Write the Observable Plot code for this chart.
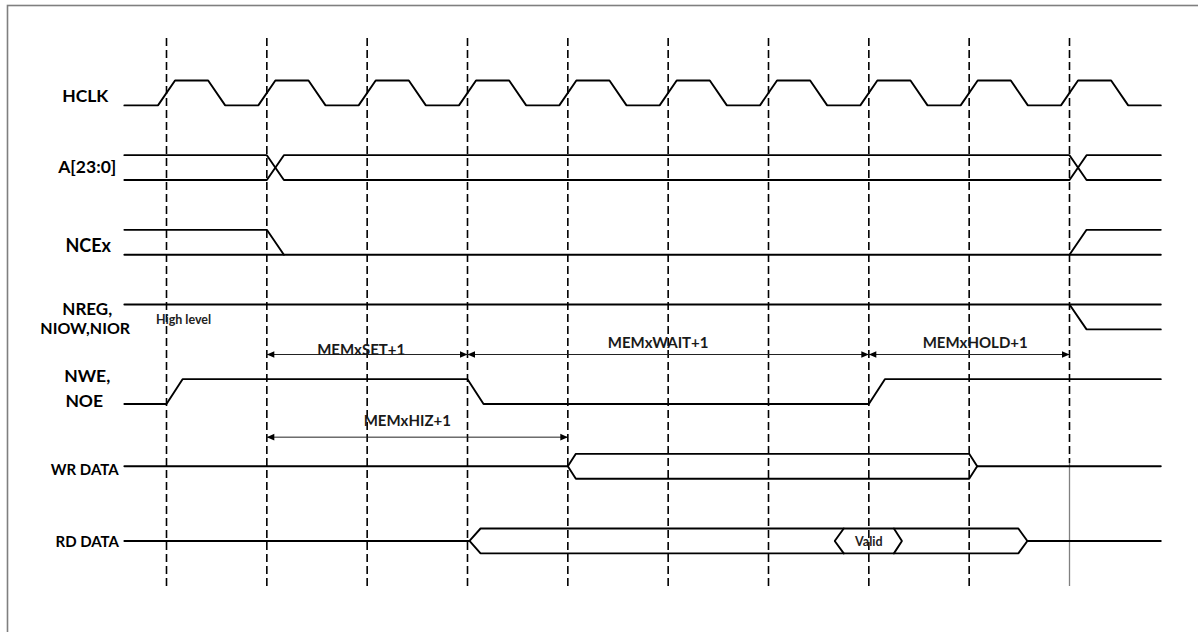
<!DOCTYPE html>
<html>
<head>
<meta charset="utf-8">
<script src="https://cdn.jsdelivr.net/npm/d3@7"></script>
<script src="https://cdn.jsdelivr.net/npm/@observablehq/plot@0.6"></script>
<style>
  body { margin: 0; background: #fff; }
  #chart svg { display: block; }
</style>
</head>
<body>
<div id="chart"></div>
<script>
// ---------------- DATA ----------------
// Signal lanes, top to bottom
const signals = ["HCLK", "A[23:0]", "NCEx", "NREG", "NWE", "WR DATA", "RD DATA"];

// Signal name text lines and the lane each belongs to
const labelTexts = ["HCLK", "A[23:0]", "NCEx", "NREG,", "NIOW,NIOR", "NWE,", "NOE", "WR DATA", "RD DATA"];
const labelLanes = [0, 1, 2, 3, 3, 4, 4, 5, 6];

// Clock-cycle reference lines (in clock periods)
const cycleMarks = [0, 1, 2, 3, 4, 5, 6, 7, 8, 9];

// HCLK edge times (clock periods)
const clkRise = [0, 1, 2, 3, 4, 5, 6, 7, 8, 9];
const clkFall = [0.5, 1.5, 2.5, 3.5, 4.5, 5.5, 6.5, 7.5, 8.5, 9.5];

// Diagram time span
const tStart = -0.42, tEnd = 9.91;

// Waveform polylines: [time, level]  (level 1 = high, 0 = low, 0.5 = mid / bus idle)
const addrA = [[tStart, 1], [1, 1], [1.17, 0], [9, 0], [9.17, 1], [tEnd, 1]];
const addrB = [[tStart, 0], [1, 0], [1.17, 1], [9, 1], [9.17, 0], [tEnd, 0]];
const nceHigh = [[tStart, 1], [1, 1], [1.17, 0]];
const nceLow = [[tStart, 0], [tEnd, 0]];
const nceRise = [[9, 0], [9.17, 1], [tEnd, 1]];
const nregHigh = [[tStart, 1], [tEnd, 1]];
const nregFall = [[9, 1], [9.17, 0], [tEnd, 0]];
const nwe = [[tStart, 0], [0, 0], [0.16, 1], [3, 1], [3.16, 0], [7, 0], [7.16, 1], [tEnd, 1]];
const wrTop = [[tStart, 0.5], [4, 0.5], [4.08, 1], [8, 1], [8.08, 0.5], [tEnd, 0.5]];
const wrBot = [[4, 0.5], [4.08, 0], [8, 0], [8.08, 0.5]];
const rdTop = [[tStart, 0.5], [3.02, 0.5], [3.13, 1], [8.49, 1], [8.58, 0.5], [tEnd, 0.5]];
const rdBot = [[3.02, 0.5], [3.13, 0], [8.49, 0], [8.58, 0.5]];
const validOpen = [[6.75, 1], [6.66, 0.5], [6.75, 0]];
const validClose = [[7.25, 1], [7.33, 0.5], [7.25, 0]];

// Timing annotations
const dimLabels = ["MEMxSET+1", "MEMxWAIT+1", "MEMxHOLD+1", "MEMxHIZ+1"];
const dimFrom = [1, 3, 7, 1];
const dimTo = [3, 7, 9, 4];
const dimLane = [3, 3, 3, 4];

// Inline notes
const noteTexts = ["High level", "Valid"];
const noteTimes = [0.17, 7.0];
const noteLanes = [3, 6];

// ---------------- LAYOUT / STYLE ----------------
const slew = 0.17;               // clock edge width (periods)
const levelHeight = 1 / 3;       // high-to-low distance, in lane units
const labelX = -0.8;             // signal label column (periods)
const labelStyle = [             // per-line font size and pixel offsets
  {size: 17.5, dx: -1, dy: 16},
  {size: 17.5, dx: 1, dy: 12},
  {size: 18, dx: 2, dy: 16},
  {size: 17, dx: 1, dy: 5},
  {size: 16, dx: -1, dy: 24},
  {size: 17.5, dx: 1, dy: -3},
  {size: 17.5, dx: -2, dy: 22},
  {size: 15, dx: -1.5, dy: 16},
  {size: 15, dx: 1, dy: 14}
];
const dimStyle = [               // label placement for annotations (text x in periods, y offsets px)
  {tx: 1.94, textDy: -4, arrowDy: 50},
  {tx: 4.9, textDy: -11, arrowDy: 50},
  {tx: 8.06, textDy: -11, arrowDy: 50},
  {tx: 2.4, textDy: -16, arrowDy: 58}
];
const noteStyle = [{size: 12.5, dy: 15}, {size: 12.5, dy: 13.5}];
const dimFontSize = 15;
const laneUnit = (528 - 80) / 6; // px per lane

// ---------------- BUILD ROWS ----------------
const yOf = (lane, level) => lane + (1 - level) * levelHeight;

// HCLK polyline from its edges
const clkPts = [[tStart, 0]];
const edges = [...clkRise.map(t => ({t, up: true})), ...clkFall.map(t => ({t, up: false}))].sort((a, b) => a.t - b.t);
for (const e of edges) {
  if (e.up) { clkPts.push([e.t - slew / 2, 0], [e.t + slew / 2, 1]); }
  else { clkPts.push([e.t - slew / 2, 1], [e.t + slew / 2, 0]); }
}
clkPts.push([tEnd, 0]);

const paths = [
  {lane: 0, pts: clkPts},
  {lane: 1, pts: addrA}, {lane: 1, pts: addrB},
  {lane: 2, pts: nceHigh}, {lane: 2, pts: nceLow}, {lane: 2, pts: nceRise},
  {lane: 3, pts: nregHigh}, {lane: 3, pts: nregFall},
  {lane: 4, pts: nwe},
  {lane: 5, pts: wrTop}, {lane: 5, pts: wrBot},
  {lane: 6, pts: rdTop}, {lane: 6, pts: rdBot},
  {lane: 6, pts: validOpen}, {lane: 6, pts: validClose}
];
const waveRows = paths.flatMap((p, i) => p.pts.map(([t, level]) => ({id: i, t, y: yOf(p.lane, level)})));

const labels = labelTexts.map((text, i) => ({text, y: labelLanes[i], ...labelStyle[i]}));

const dims = dimLabels.map((text, i) => ({
  text, from: dimFrom[i], to: dimTo[i],
  y: dimLane[i] + dimStyle[i].arrowDy / laneUnit,
  ty: dimLane[i] + (dimStyle[i].arrowDy + dimStyle[i].textDy) / laneUnit,
  tx: dimStyle[i].tx
}));
const heads = dims.flatMap(d => [
  {t: d.from, y: d.y, rot: 180},
  {t: d.to, y: d.y, rot: 0}
]);

const notes = noteTexts.map((text, i) => ({text, t: noteTimes[i], y: noteLanes[i], ...noteStyle[i]}));

// arrowhead symbol: tip at origin, pointing right
const arrowHead = {
  draw(ctx) {
    ctx.moveTo(0, 0);
    ctx.lineTo(-7.5, -3.3);
    ctx.lineTo(-7.5, 3.3);
    ctx.closePath();
  }
};

// dashed reference line extents (lane units)
const gridTop = (38 - 80) / laneUnit;
const gridBottom = (586 - 80) / laneUnit;
const lastSplit = (463 - 80) / laneUnit;

const font = "Lato, 'Liberation Sans', Arial, sans-serif";

const chart = Plot.plot({
  width: 1198,
  height: 632,
  margin: 0,
  style: {fontFamily: font, background: "#fff", overflow: "visible"},
  x: {type: "linear", domain: [0, 9], range: [166, 1069], axis: null},
  y: {type: "linear", domain: [0, 6], range: [80, 528], axis: null},
  marks: [
    Plot.frame({stroke: "#7f7f7f", strokeWidth: 1.6, insetLeft: 7, insetTop: 5, insetRight: -6, insetBottom: -6}),
    // cycle reference lines
    Plot.ruleX(cycleMarks.slice(0, -1), {x: d => d, y1: gridTop, y2: gridBottom, stroke: "#000", strokeWidth: 1.6, strokeDasharray: "8,4"}),
    Plot.ruleX(cycleMarks.slice(-1), {x: d => d, y1: gridTop, y2: lastSplit, stroke: "#000", strokeWidth: 1.6, strokeDasharray: "8,4"}),
    Plot.ruleX(cycleMarks.slice(-1), {x: d => d, y1: lastSplit, y2: gridBottom, stroke: "#808080", strokeWidth: 1.3}),
    // waveforms
    Plot.line(waveRows, {x: "t", y: "y", z: "id", stroke: "#000", strokeWidth: 1.9, strokeLinejoin: "miter"}),
    // timing annotations
    Plot.ruleY(dims, {y: "y", x1: "from", x2: "to", stroke: "#222", strokeWidth: 1}),
    Plot.dot(heads, {x: "t", y: "y", symbol: arrowHead, rotate: "rot", fill: "#000", stroke: "none", r: 4}),
    Plot.text(dims, {x: "tx", y: "ty", text: "text", fontSize: dimFontSize, fontWeight: "bold", fill: "#1a1a1a"}),
    // signal labels
    ...labels.map(l => Plot.text([l], {x: () => labelX, y: "y", dx: l.dx, dy: l.dy, text: "text", fontSize: l.size, fontWeight: "bold", fill: "#000"})),
    // notes
    ...notes.map(n => Plot.text([n], {x: "t", y: "y", dy: n.dy, text: "text", fontSize: n.size, fontWeight: "bold", fill: "#222"}))
  ]
});
document.getElementById("chart").appendChild(chart);
</script>
</body>
</html>
